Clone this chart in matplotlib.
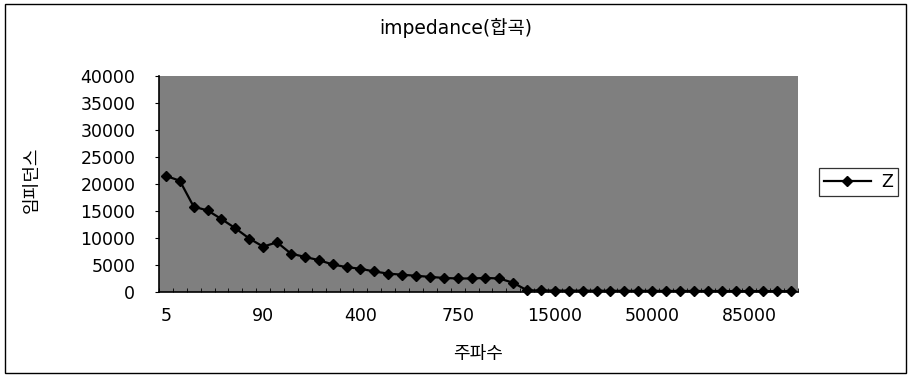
import matplotlib
matplotlib.use('Agg')
import matplotlib.pyplot as plt
from matplotlib.patches import Rectangle
import numpy as np

plt.rcParams['font.family'] = ['DejaVu Sans', 'Noto Sans CJK KR']

# Frekvencie (kategorie osi x) a impedancia Z
freq = [5, 10, 20, 30, 40, 50, 70, 90,
        100, 150, 200, 250, 300, 350, 400,
        450, 500, 550, 600, 650, 700, 750,
        800, 850, 900, 950, 1000, 10000, 15000,
        20000, 25000, 30000, 35000, 40000, 45000, 50000,
        55000, 60000, 65000, 70000, 75000, 80000, 85000,
        90000, 95000, 100000]
z = [21500, 20600, 15800, 15100, 13500, 11800, 9900, 8400, 9200, 7100,
     6500, 5900, 5100, 4600, 4300, 3800, 3400, 3200, 3000, 2800,
     2600, 2500, 2500, 2600, 2500, 1700, 300, 280, 260, 250,
     240, 230, 220, 210, 200, 200, 190, 190, 180, 180,
     170, 170, 160, 160, 150, 150]
y_ticks = list(range(0, 40001, 5000))
label_step = 7

fig = plt.figure(figsize=(9.11, 3.79), dpi=100)
ax = fig.add_axes([0.1745, 0.2296, 0.7015, 0.5699])
ax.set_facecolor('#7f7f7f')

x = np.arange(len(freq))
ax.plot(x, z, color='black', linewidth=1.6, marker='D', markersize=5.5, label='Z', clip_on=False)

ax.set_xlim(-0.5, len(freq) - 0.5)
ax.set_ylim(0, 40000)
ax.set_yticks(y_ticks)
ax.set_yticklabels([str(v) for v in y_ticks], fontsize=12.5)
ax.set_xticks(x[::label_step])
ax.set_xticklabels([str(f) for f in freq[::label_step]], fontsize=12.5)
ax.set_xticks(np.arange(-0.5, len(freq), 1), minor=True)
ax.tick_params(axis='x', which='major', length=0, pad=11)
ax.tick_params(axis='x', which='minor', direction='in', length=3)
ax.tick_params(axis='y', length=3, pad=14)

for side in ['top', 'right']:
    ax.spines[side].set_visible(False)
ax.spines['left'].set_linewidth(1.2)
ax.spines['bottom'].set_linewidth(1.2)

ax.set_xlabel('주파수', fontsize=13, labelpad=14)
ax.set_ylabel('임피던스', fontsize=13)
ax.yaxis.set_label_coords(-0.185, 0.52)

fig.text(0.5, 0.925, 'impedance(합곡)', ha='center', va='center', fontsize=13.5)

leg = fig.legend(loc='center left', bbox_to_anchor=(0.889, 0.52), fontsize=12.5,
                 frameon=True, fancybox=False, edgecolor='black', handlelength=2.7,
                 handletextpad=0.6, borderpad=0.3)
leg.get_frame().set_linewidth(0.9)

# Ram okolo celeho grafu
fig.patches.append(Rectangle((0.005, 0.015), 0.989, 0.975, transform=fig.transFigure,
                             fill=False, edgecolor='black', linewidth=1.0))

fig.savefig('out.png', dpi=100)
